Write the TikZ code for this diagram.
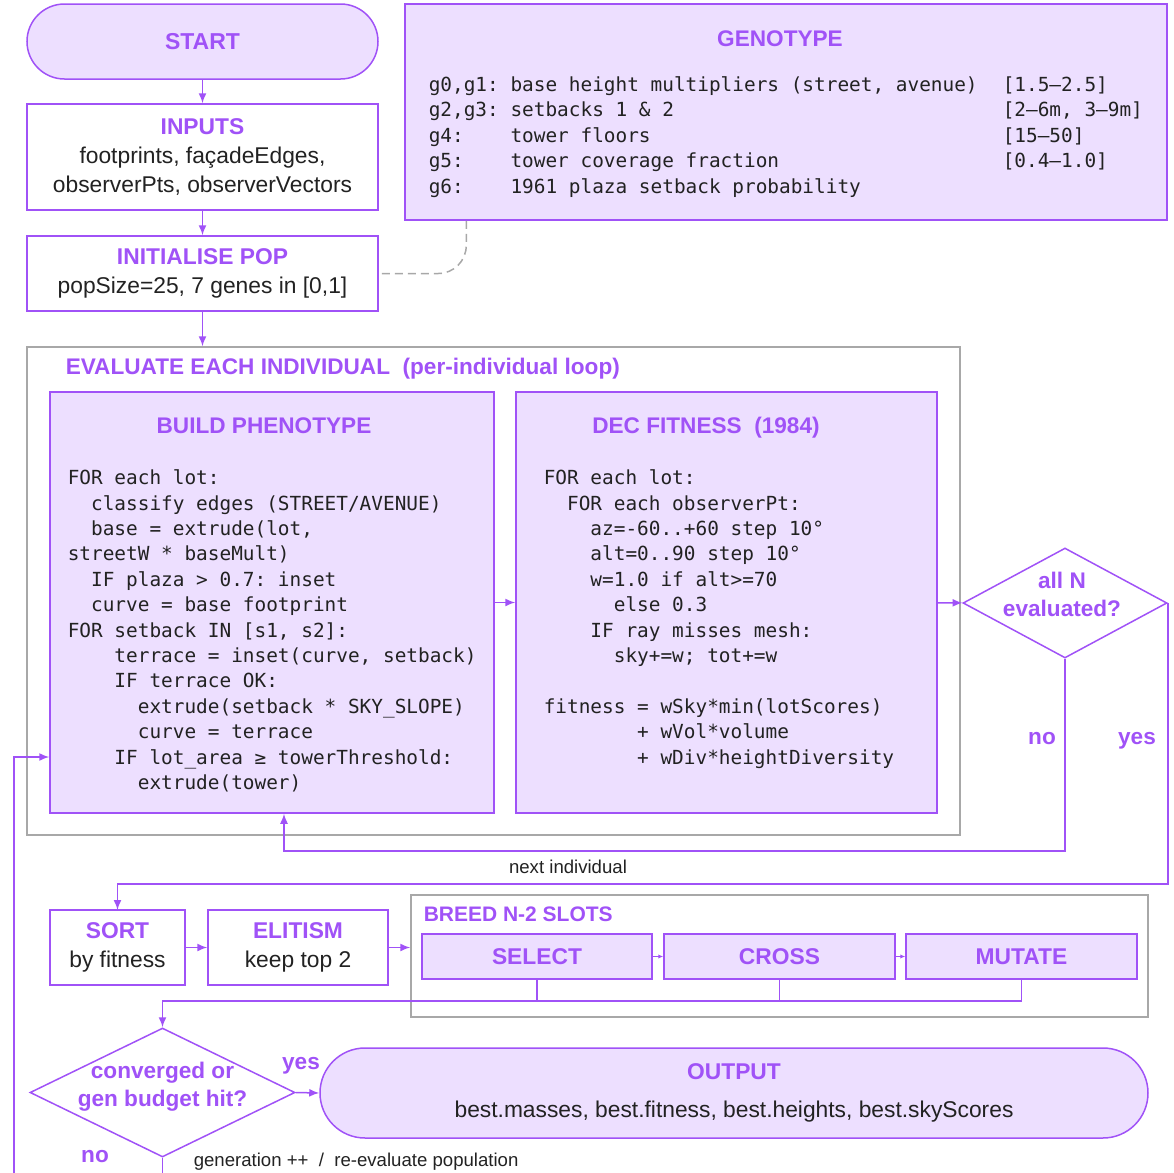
\documentclass[tikz,border=0pt]{standalone}
\usepackage{fontspec}
\setmainfont{Liberation Sans}
\setmonofont{DejaVu Sans Mono}
\usetikzlibrary{shapes.geometric,arrows.meta}

\definecolor{flowpurple}{HTML}{A052F7}
\definecolor{flowfill}{HTML}{EDDFFF}
\definecolor{flowgrey}{HTML}{A8A8A8}
\definecolor{flowink}{HTML}{222222}

\newcommand{\bodyfont}{\fontsize{11.4}{14.7}\selectfont}
\newcommand{\codefont}{\ttfamily\fontsize{9.7}{12.7}\selectfont}
\newcommand{\hd}[1]{{\bfseries\color{flowpurple}#1}}
\newcommand{\indt}[1]{\hspace*{#1\fontcharwd\font`0}}

\begin{document}
\begin{tikzpicture}[x=0.5pt,y=-0.5pt,line width=0.75pt,
  arr/.style={draw=flowpurple,-{Latex[length=5pt,width=4pt]}},
  tinyarr/.style={draw=flowpurple,-{Latex[length=2.5pt,width=2.2pt]}},
  link/.style={draw=flowpurple},
  plainbox/.style={draw=flowpurple,fill=white,align=center,font=\bodyfont,text=flowink},
  softbox/.style={draw=flowpurple,fill=flowfill,align=center,font=\bodyfont,text=flowink},
  pill/.style={softbox,rounded corners=#1},
  frame/.style={draw=flowgrey},
  decision/.style={diamond,draw=flowpurple,fill=white,inner sep=0pt},
  ttl/.style={font=\fontsize{11.3}{14}\selectfont\bfseries,text=flowpurple,align=center},
  code/.style={font=\codefont,text=flowink,align=left,anchor=north west,inner sep=0pt},
  lbl/.style={font=\fontsize{9.3}{11}\selectfont,text=flowink,inner sep=0pt},
  dashlink/.style={draw=flowgrey,dash pattern=on 4pt off 2.5pt,rounded corners=14pt}]

\useasboundingbox (0,0) rectangle (1174,1173);

\node[pill=18.75pt,minimum width=175.5pt,minimum height=37.5pt] (start) at (202.5,41.5)
  {\hd{\fontsize{11.5}{14}\selectfont START}};
\node[plainbox,minimum width=175.5pt,minimum height=53pt] (inputs) at (202.5,157)
  {\hd{INPUTS}\\footprints, façadeEdges,\\observerPts, observerVectors};
\node[plainbox,minimum width=175.5pt,minimum height=37.5pt] (init) at (202.5,273.5)
  {\hd{INITIALISE POP}\\popSize=25, 7 genes in [0,1]};

\node[softbox,minimum width=381pt,minimum height=108pt] (geno) at (786,112) {};
\node[ttl] (genottl) at (780,39) {GENOTYPE};
\node[code] (genes) at (428,76) {%
g0,g1: base height multipliers (street, avenue)\\
g2,g3: setbacks 1 \& 2\\
g4:\indt{4}tower floors\\
g5:\indt{4}tower coverage fraction\\
g6:\indt{4}1961 plaza setback probability};
\node[code] (ranges) at (1002,76) {%
{[}1.5–2.5]\\
{[}2–6m, 3–9m]\\
{[}15–50]\\
{[}0.4–1.0]};

\draw[arr] (start) -- (inputs);
\draw[arr] (inputs) -- (init);
\draw[dashlink] ([xshift=31pt]geno.south west) |- (init.east);

\node[frame,minimum width=466.5pt,minimum height=244pt] (eval) at (493.5,591) {};
\node[ttl,anchor=west,inner sep=0pt] (evalttl) at (65,369)
  {EVALUATE EACH INDIVIDUAL\ \ (per-individual loop)};
\draw[arr] (init) -- (init.south |- eval.north);

\node[softbox,minimum width=222pt,minimum height=210.5pt] (build) at (272,602.5) {};
\node[ttl,text height=8pt,text depth=2pt] (buildttl) at (264,427) {BUILD PHENOTYPE};
\node[code] (buildcode) at (67,469) {%
FOR each lot:\\
\indt{2}classify edges (STREET/AVENUE)\\
\indt{2}base = extrude(lot,\\
streetW * baseMult)\\
\indt{2}IF plaza > 0.7: inset\\
\indt{2}curve = base footprint\\
FOR setback IN [s1, s2]:\\
\indt{4}terrace = inset(curve, setback)\\
\indt{4}IF terrace OK:\\
\indt{6}extrude(setback * SKY\_SLOPE)\\
\indt{6}curve = terrace\\
\indt{4}IF lot\_area ≥ towerThreshold:\\
\indt{6}extrude(tower)};

\node[softbox,minimum width=210.5pt,minimum height=210.5pt] (dec) at (726.5,602.5) {};
\node[ttl,text height=8pt,text depth=2pt] (decttl) at (706,427) {DEC FITNESS\ \ (1984)};
\node[code] (deccode) at (543,469) {%
FOR each lot:\\
\indt{2}FOR each observerPt:\\
\indt{4}az=-60..+60 step 10°\\
\indt{4}alt=0..90 step 10°\\
\indt{4}w=1.0 if alt>=70\\
\indt{6}else 0.3\\
\indt{4}IF ray misses mesh:\\
\indt{6}sky+=w; tot+=w\\
\strut\\
fitness = wSky*min(lotScores)\\
\indt{8}+ wVol*volume\\
\indt{8}+ wDiv*heightDiversity};

\node[decision,minimum width=102pt,minimum height=55pt] (q1) at (1065,603) {};
\node[ttl] (q1txt) at (1062,594) {all N\\evaluated?};

\draw[arr] (build) -- (dec);
\draw[arr] (dec) -- (q1);
\draw[arr] (q1.south) -- ++(0,192) -| ([xshift=6pt]build.south);
\draw[arr] (q1.east) -- ++(0,281) -| (117.5,910);
\node[ttl,text height=8pt,text depth=2pt] (nolbl) at (1042,738) {no};
\node[ttl,text height=8pt,text depth=2pt] (yeslbl) at (1137,738) {yes};
\node[lbl] (nextlbl) at (568,867) {next individual};

\node[plainbox,minimum width=67.5pt,minimum height=37.5pt] (sort) at (117.5,947.5)
  {\hd{SORT}\\by fitness};
\node[plainbox,minimum width=90pt,minimum height=37.5pt] (elite) at (298,947.5)
  {\hd{ELITISM}\\keep top 2};
\node[frame,minimum width=368.5pt,minimum height=61pt] (breed) at (779.5,956) {};
\node[ttl,anchor=west,inner sep=0pt,font=\fontsize{10.5}{13}\selectfont\bfseries] (breedttl) at (423,914)
  {BREED N-2 SLOTS};
\node[softbox,minimum width=115pt,minimum height=22.5pt] (sel) at (537,956.5) {\hd{SELECT}};
\node[softbox,minimum width=115.5pt,minimum height=22.5pt] (cro) at (779.5,956.5) {\hd{CROSS}};
\node[softbox,minimum width=115.5pt,minimum height=22.5pt] (mut) at (1021.5,956.5) {\hd{MUTATE}};

\draw[arr] (sort) -- (elite);
\draw[arr] (elite.east) -- (elite.east -| breed.west);
\draw[tinyarr] (sel) -- (cro);
\draw[tinyarr] (cro) -- (mut);

\node[decision,minimum width=132.5pt,minimum height=64.5pt] (q2) at (162.5,1092.5) {};
\node[ttl] (q2txt) at (162.5,1087) {converged or\\gen budget hit?};
\node[pill=22.5pt,minimum width=414pt,minimum height=45pt] (out) at (734,1093)
  {\hd{OUTPUT}\\[4pt]best.masses, best.fitness, best.heights, best.skyScores};

\draw[link] (sel.south) -- ++(0,21);
\draw[link] (cro.south) -- ++(0,21);
\draw[arr] (mut.south) -- ++(0,21) -| (q2.north);
\draw[arr] (q2.east) -- (out.west);
\node[ttl,text height=8pt,text depth=2pt] (yes2lbl) at (301,1063) {yes};
\node[ttl,text height=8pt,text depth=2pt] (no2lbl) at (95,1156) {no};
\node[lbl,anchor=west] (genlbl) at (193,1162) {generation ++\ \ /\ \ re-evaluate population};

\coordinate (back) at (14,757);
\draw[arr] (q2.south) -- ++(0,40) -| (back) -- (back -| build.west);
\end{tikzpicture}
\end{document}
